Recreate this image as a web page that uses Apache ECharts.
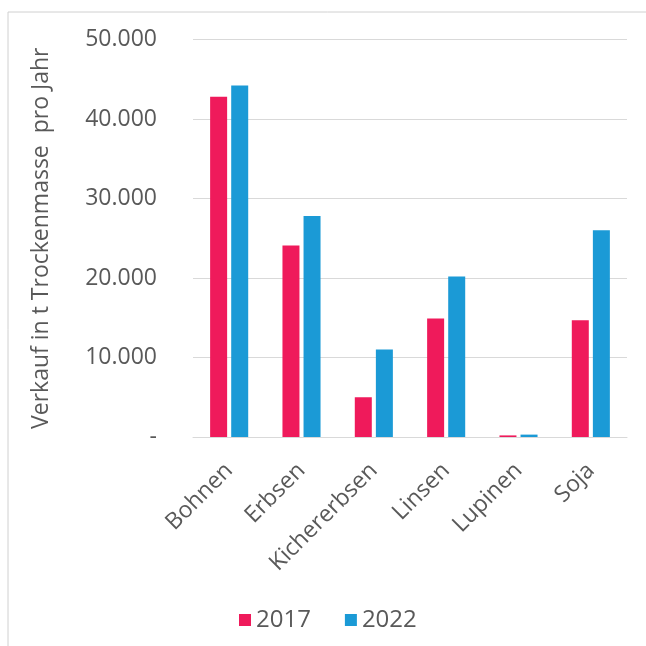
<!DOCTYPE html>
<html>
<head>
    <meta charset="utf-8">
    <title>Verkauf Hülsenfrüchte</title>
    <script src="https://cdn.jsdelivr.net/npm/echarts@6/dist/echarts.min.js"></script>
    <style>
        html, body { margin: 0; padding: 0; background: #fff; }
    </style>
</head>
<body>
    <div id="main" style="width: 646px;height:646px;"></div>
    <script type="text/javascript">
    var myChart = echarts.init(document.getElementById('main'));
    // Data
    var categories = ['Bohnen', 'Erbsen', 'Kichererbsen', 'Linsen', 'Lupinen', 'Soja'];
    var years = ['2017', '2022'];
    var values2017 = [42800, 24100, 5000, 14900, 200, 14700];
    var values2022 = [44200, 27800, 11000, 20200, 300, 26000];
    var yTicks = [0, 10000, 20000, 30000, 40000, 50000];

    var textColor = '#595959';
    var font = 'Open Sans';

    function fmt(v) {
      if (v === 0) return '-';
      return String(v).replace(/\B(?=(\d{3})+(?!\d))/g, '.');
    }

    var option = {
      backgroundColor: '#fff',
      animation: false,
      textStyle: { fontFamily: font },
      graphic: [{
        type: 'rect',
        shape: { x: 8, y: 12, width: 660, height: 660 },
        style: { fill: 'none', stroke: '#d0d0d0', lineWidth: 1 },
        silent: true
      }],
      legend: {
        top: 603,
        left: 234,
        itemWidth: 12,
        itemHeight: 12,
        itemGap: 34,
        icon: 'rect',
        data: years,
        textStyle: { color: textColor, fontSize: 24, fontFamily: font }
      },
      grid: {
        left: 193,
        right: 19,
        top: 39.5,
        bottom: 209,
        containLabel: false
      },
      xAxis: {
        type: 'category',
        data: categories,
        axisTick: { show: false },
        axisLine: { lineStyle: { color: '#d9d9d9', width: 1 } },
        axisLabel: {
          rotate: 45,
          color: textColor,
          fontSize: 23,
          fontFamily: font,
          margin: 30,
          interval: 0
        }
      },
      yAxis: {
        type: 'value',
        min: yTicks[0],
        max: yTicks[yTicks.length - 1],
        interval: yTicks[1] - yTicks[0],
        name: 'Verkauf in t Trockenmasse  pro Jahr',
        nameLocation: 'middle',
        nameGap: 140,
        nameTextStyle: { color: textColor, fontSize: 23, fontFamily: font },
        axisLine: { show: false },
        axisTick: { show: false },
        splitLine: { lineStyle: { color: '#d9d9d9', width: 1 } },
        axisLabel: {
          color: textColor,
          fontSize: 23,
          fontFamily: font,
          margin: 36,
          formatter: fmt
        }
      },
      series: [{
        name: years[0],
        type: 'bar',
        data: values2017,
        barWidth: 17,
        barGap: '24%',
        itemStyle: { color: '#ef1a5b' }
      }, {
        name: years[1],
        type: 'bar',
        data: values2022,
        barWidth: 17,
        barGap: '24%',
        itemStyle: { color: '#1b9ad6' }
      }]
    };

    myChart.setOption(option);
    </script>
</body>
</html>
